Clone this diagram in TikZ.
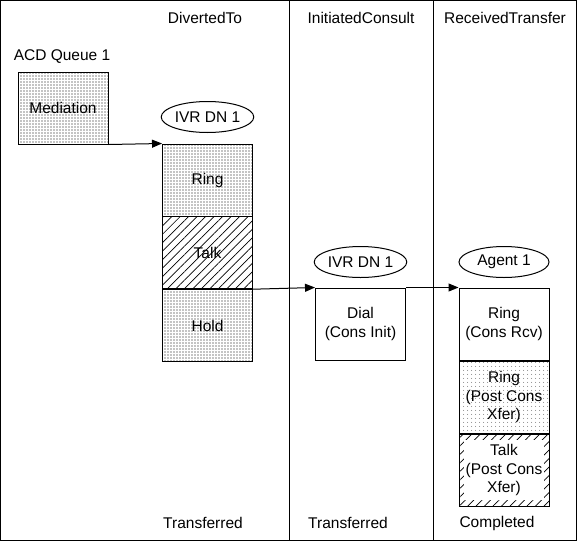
\documentclass[tikz,border=0pt]{standalone}
\usepackage{fontspec}
\setmainfont{Liberation Sans}
\usetikzlibrary{positioning,patterns.meta,shapes.geometric,arrows.meta}

\begin{document}
\begin{tikzpicture}
  [x=1pt,y=-1pt,line width=1pt,font=\fontsize{15.5}{18.5}\selectfont,
   every node/.style={inner sep=0pt},
   state/.style={draw,rectangle,minimum width=90pt,minimum height=72pt,align=center},
   party/.style={draw,ellipse,minimum width=90pt,minimum height=31pt},
   dotfill/.style={pattern={Dots[distance=3pt,radius=0.65pt]}},
   lightdots/.style={pattern={Dots[distance=4pt,radius=0.5pt]},pattern color=black!70},
   hatchfill/.style={pattern={Lines[angle=45,distance=6pt,line width=0.7pt]}},
   >={Triangle[length=10pt,width=8pt]}]
  \useasboundingbox (0,0) rectangle (577,541);
  \draw (0.5,0.5) rectangle (576.5,540.5);
  \draw (289,0) -- (289,541);
  \draw (433,0) -- (433,541);

  % column titles
  \node (divert) at (205,18) {DivertedTo};
  \node (consult) at (361,18) {InitiatedConsult};
  \node (receive) at (505,18) {ReceivedTransfer};

  % queue
  \node (queue) at (62,57) {ACD Queue 1};
  \node (med)[state,dotfill] at (63,108) {Mediation};

  % first IVR
  \node (ivr1)[party] at (207.5,117) {IVR DN 1};
  \node (ring1)[state,dotfill] at (207.5,180) {Ring};
  \node (talk1)[state,hatchfill,below=0pt of ring1] {Talk};
  \node (hold1)[state,dotfill,below=0pt of talk1] {Hold};

  % consult IVR
  \node (ivr2)[party] at (360.5,262) {IVR DN 1};
  \node (dial)[state] at (360.5,324) {Dial\\(Cons Init)};

  % agent
  \node (agent)[party] at (504,262) {Agent 1};
  \node (rcv)[state] at (504,324) {Ring\\(Cons Rcv)};
  \node (ring3)[state,lightdots,below=0pt of rcv] {Ring\\(Post Cons\\Xfer)};
  \node (talk3)[state,hatchfill,below=0pt of ring3] {};
  \node (talk3txt)[fill=white,minimum width=80pt,minimum height=60pt,align=center] at (talk3) {Talk\\(Post Cons\\Xfer)};

  % bottom states
  \node (end1) at (203,523) {Transferred};
  \node (end2) at (348,523) {Transferred};
  \node (end3) at (497,523) {Completed};

  \draw[->] (med.south east) -- (ring1.north west);
  \draw[->] (hold1.north east) -- (dial.north west);
  \draw[->] (dial.north east) -- (rcv.north west);
\end{tikzpicture}
\end{document}
